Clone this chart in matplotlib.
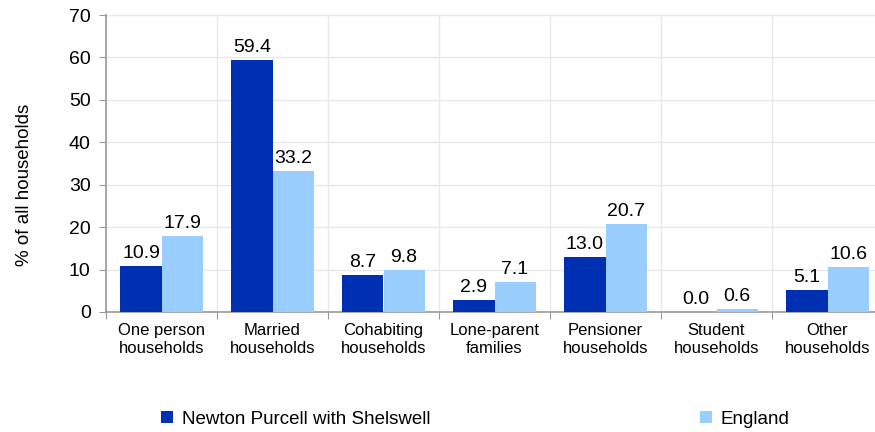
import matplotlib.pyplot as plt
import numpy as np

plt.rcParams['font.family'] = ['Liberation Sans', 'DejaVu Sans']

categories = ['One person\nhouseholds', 'Married\nhouseholds', 'Cohabiting\nhouseholds',
              'Lone-parent\nfamilies', 'Pensioner\nhouseholds', 'Student\nhouseholds',
              'Other\nhouseholds']
local_vals = [10.9, 59.4, 8.7, 2.9, 13.0, 0.0, 5.1]
england_vals = [17.9, 33.2, 9.8, 7.1, 20.7, 0.6, 10.6]
series_names = ['Newton Purcell with Shelswell', 'England']
colors = ['#0030B2', '#99CCFF']

fig = plt.figure(figsize=(8.75, 4.32), dpi=100)
ax = fig.add_axes([106/875, 1 - 312/432, 777/875, 297/432])

x = np.arange(len(categories))
w = 0.37
b1 = ax.bar(x - w/2, local_vals, w, color=colors[0], label=series_names[0], zorder=3)
b2 = ax.bar(x + w/2, england_vals, w, color=colors[1], label=series_names[1], zorder=3)

for bars, vals in ((b1, local_vals), (b2, england_vals)):
    for bar, v in zip(bars, vals):
        ax.annotate(f'{v:.1f}', (bar.get_x() + bar.get_width()/2, v),
                    xytext=(0, 3), textcoords='offset points',
                    ha='center', va='bottom', fontsize=14)

ax.set_xlim(-0.5, len(categories) - 0.5)
ax.set_ylim(0, 70)
ax.set_yticks(range(0, 71, 10))
ax.set_xticks(np.arange(len(categories) + 1) - 0.5)
ax.set_xticklabels([])
ax.set_xticks(x, minor=True)
ax.set_xticklabels(categories, minor=True, fontsize=12, linespacing=1.25)
ax.tick_params(axis='x', which='minor', length=0, pad=8)
ax.tick_params(axis='x', which='major', length=5, color='#999999')
ax.tick_params(axis='y', length=5, color='#999999', labelsize=14, pad=6)

ax.grid(True, which='major', color='#e8e8e8', linewidth=1, zorder=0)
for s in ('top', 'right'):
    ax.spines[s].set_visible(False)
for s in ('left', 'bottom'):
    ax.spines[s].set_color('#999999')
    ax.spines[s].set_linewidth(1.2)

ax.set_ylabel('% of all households', fontsize=13.5)
ax.yaxis.set_label_coords(-0.094, 0.428)

fig.legend(handles=[b1, b2], labels=series_names, loc='center left',
           bbox_to_anchor=(144/875, 1 - 419/432), ncol=2, frameon=False,
           fontsize=13.5, handlelength=0.65, handleheight=0.65, handletextpad=0.45,
           columnspacing=14.4)

plt.savefig('out.png', dpi=100, facecolor='white')
